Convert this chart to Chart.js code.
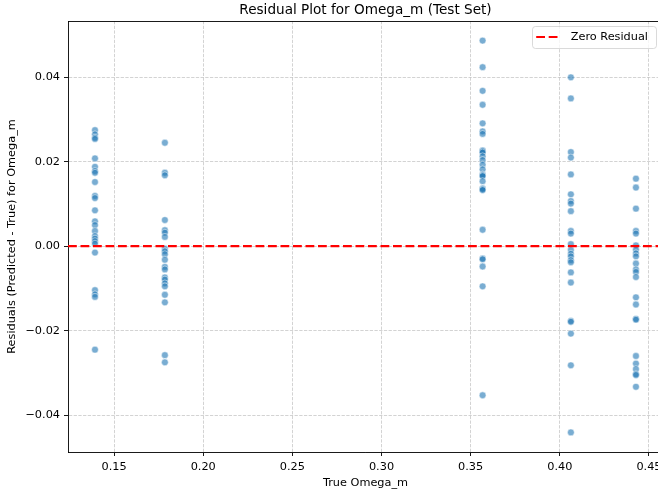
<!DOCTYPE html>
<html>
<head>
<meta charset="utf-8">
<script src="https://cdn.jsdelivr.net/npm/chart.js@4.4.1/dist/chart.umd.min.js"></script>
<style>
  html, body { margin: 0; padding: 0; background: #fff; overflow: hidden; }
  canvas { display: block; }
</style>
</head>
<body>
<canvas id="residualChart" width="663" height="496"></canvas>
<script>
// True Omega_m of each test cosmology and the residuals measured at it
const trueOmegaM = [0.1393, 0.1785, 0.3567, 0.4062, 0.4427];

const residualsA = [0.0275, 0.0265, 0.0257, 0.0254, 0.0208, 0.0188, 0.0178, 0.0174, 0.0152,
  0.0119, 0.0114, 0.0085, 0.0059, 0.0050, 0.0036, 0.0024, 0.0018, 0.0012, 0.0006,
  -0.0015, -0.0104, -0.0114, -0.0120, -0.0245];
const residualsB = [0.0245, 0.0174, 0.0168, 0.0062, 0.0038, 0.0032, 0.0022, -0.0006, -0.0012,
  -0.0019, -0.0032, -0.0049, -0.0055, -0.0074, -0.0079, -0.0088, -0.0095, -0.0115,
  -0.0133, -0.0258, -0.0275];
const residualsC = [0.0487, 0.0424, 0.0368, 0.0335, 0.0291, 0.0272, 0.0266, 0.0227, 0.0225,
  0.0222, 0.0213, 0.0204, 0.0193, 0.0182, 0.0170, 0.0168, 0.0166, 0.0154, 0.0137,
  0.0135, 0.0133, 0.0039, -0.0029, -0.0031, -0.0048, -0.0095, -0.0353];
const residualsD = [0.0400, 0.0350, 0.0223, 0.0210, 0.0170, 0.0123, 0.0107, 0.0101, 0.0083,
  0.0036, 0.0030, 0.0005, -0.0009, -0.0018, -0.0024, -0.0033, -0.0038, -0.0062,
  -0.0086, -0.0177, -0.0179, -0.0207, -0.0282, -0.0441];
const residualsE = [0.0160, 0.0139, 0.0089, 0.0036, 0.0030, 0.0002, -0.0008, -0.0017, -0.0024,
  -0.0041, -0.0055, -0.0061, -0.0073, -0.0121, -0.0138, -0.0172, -0.0174, -0.0260,
  -0.0278, -0.0291, -0.0303, -0.0305, -0.0333];
const residualGroups = [residualsA, residualsB, residualsC, residualsD, residualsE];

const zeroResidual = 0;

// axis ranges and ticks
const xRange = [0.12417, 0.45787];
const yRange = [-0.04874, 0.05334];
const xTicks = [0.15, 0.20, 0.25, 0.30, 0.35, 0.40, 0.45];
const yTicks = [-0.04, -0.02, 0.00, 0.02, 0.04];

const FONT = "'DejaVu Sans'";
const labelSize = 11.3;
const titleSize = 13.6;

Chart.defaults.font.family = FONT;
Chart.defaults.color = '#000';

const scatterPoints = [];
trueOmegaM.forEach((x, i) => {
  residualGroups[i].forEach(r => scatterPoints.push({ x: x, y: r }));
});

const fmt = v => v.toFixed(2).replace('-', '\u2212');

// fixed axis boxes, no extra room for overhanging tick labels
const fixBox = (size) => s => {
  if (s.isHorizontal()) s.height = size; else s.width = size;
  s.paddingLeft = s.paddingRight = s.paddingTop = s.paddingBottom = 0;
};

// legend drawn inside the axes, upper right
const insetLegend = {
  id: 'insetLegend',
  afterDraw(chart) {
    const { ctx, chartArea } = chart;
    const ds = chart.data.datasets[1];
    ctx.save();
    ctx.font = `${labelSize}px ${FONT}`;
    const textW = ctx.measureText(ds.label).width;
    const w = 4.5 + 23 + 11.5 + textW + 8;
    const h = 22;
    const right = chartArea.right - 7;
    const top = chartArea.top + 5;
    const left = right - w;

    ctx.beginPath();
    ctx.roundRect(Math.round(left) + 0.5, Math.round(top) + 0.5, Math.round(w), h, 3);
    ctx.fillStyle = 'rgba(255,255,255,0.8)';
    ctx.fill();
    ctx.strokeStyle = 'rgba(204,204,204,0.8)';
    ctx.lineWidth = 0.9;
    ctx.stroke();

    const cy = top + h / 2;
    ctx.beginPath();
    ctx.setLineDash(ds.borderDash);
    ctx.strokeStyle = ds.borderColor;
    ctx.lineWidth = ds.borderWidth;
    ctx.moveTo(left + 4.5, cy);
    ctx.lineTo(left + 4.5 + 23, cy);
    ctx.stroke();
    ctx.setLineDash([]);

    ctx.fillStyle = '#000';
    ctx.textBaseline = 'middle';
    ctx.textAlign = 'left';
    ctx.fillText(ds.label, left + 4.5 + 23 + 11.5, cy);
    ctx.restore();
  }
};

const gridStyle = {
  color: 'rgba(176,176,176,0.7)',
  lineWidth: 0.8,
  tickColor: '#000',
  tickWidth: 0.9,
  tickLength: 4,
  tickBorderDash: []
};
const borderStyle = { display: true, color: '#000', width: 0.9, dash: [3.3, 1.4] };

new Chart(document.getElementById('residualChart'), {
  data: {
    datasets: [{
      type: 'scatter',
      label: 'Residuals',
      data: scatterPoints,
      backgroundColor: 'rgba(31,119,180,0.6)',
      borderColor: 'rgba(255,255,255,0.6)',
      borderWidth: 0.8,
      pointRadius: 3.4,
      pointHoverRadius: 3.4,
      order: 1
    }, {
      type: 'line',
      label: 'Zero Residual',
      data: [{ x: xRange[0], y: zeroResidual }, { x: xRange[1], y: zeroResidual }],
      borderColor: '#ff0000',
      borderWidth: 2.2,
      borderDash: [8.8, 3.7],
      pointRadius: 0,
      fill: false,
      order: 0
    }]
  },
  options: {
    responsive: false,
    animation: false,
    events: [],
    layout: { padding: 0, autoPadding: false },
    plugins: {
      legend: { display: false },
      tooltip: { enabled: false }
    },
    scales: {
      x: {
        type: 'linear',
        position: 'bottom',
        min: xRange[0],
        max: xRange[1],
        afterBuildTicks: s => { s.ticks = xTicks.map(v => ({ value: v })); },
        afterFit: fixBox(44),
        ticks: {
          padding: 4,
          maxRotation: 0,
          font: { size: labelSize },
          callback: v => fmt(v)
        },
        grid: gridStyle,
        border: borderStyle,
        title: {
          display: true,
          text: 'True Omega_m',
          font: { size: labelSize },
          padding: { top: 0, bottom: 6.2 }
        }
      },
      top: {
        type: 'linear',
        axis: 'x',
        position: 'top',
        min: xRange[0],
        max: xRange[1],
        afterFit: fixBox(21),
        ticks: { display: false },
        grid: { drawOnChartArea: false, drawTicks: false },
        border: { display: true, color: '#000', width: 0.9 },
        title: {
          display: true,
          text: 'Residual Plot for Omega_m (Test Set)',
          font: { size: titleSize },
          padding: { top: 2.3, bottom: 0 }
        }
      },
      y: {
        type: 'linear',
        min: yRange[0],
        max: yRange[1],
        afterBuildTicks: s => { s.ticks = yTicks.map(v => ({ value: v })); },
        afterFit: fixBox(68),
        ticks: {
          padding: 4,
          font: { size: labelSize },
          callback: v => fmt(v)
        },
        grid: gridStyle,
        border: borderStyle,
        title: {
          display: true,
          text: 'Residuals (Predicted - True) for Omega_m',
          font: { size: labelSize },
          padding: { top: 5.5, bottom: 0 }
        }
      }
    }
  },
  plugins: [insetLegend]
});
</script>
</body>
</html>
